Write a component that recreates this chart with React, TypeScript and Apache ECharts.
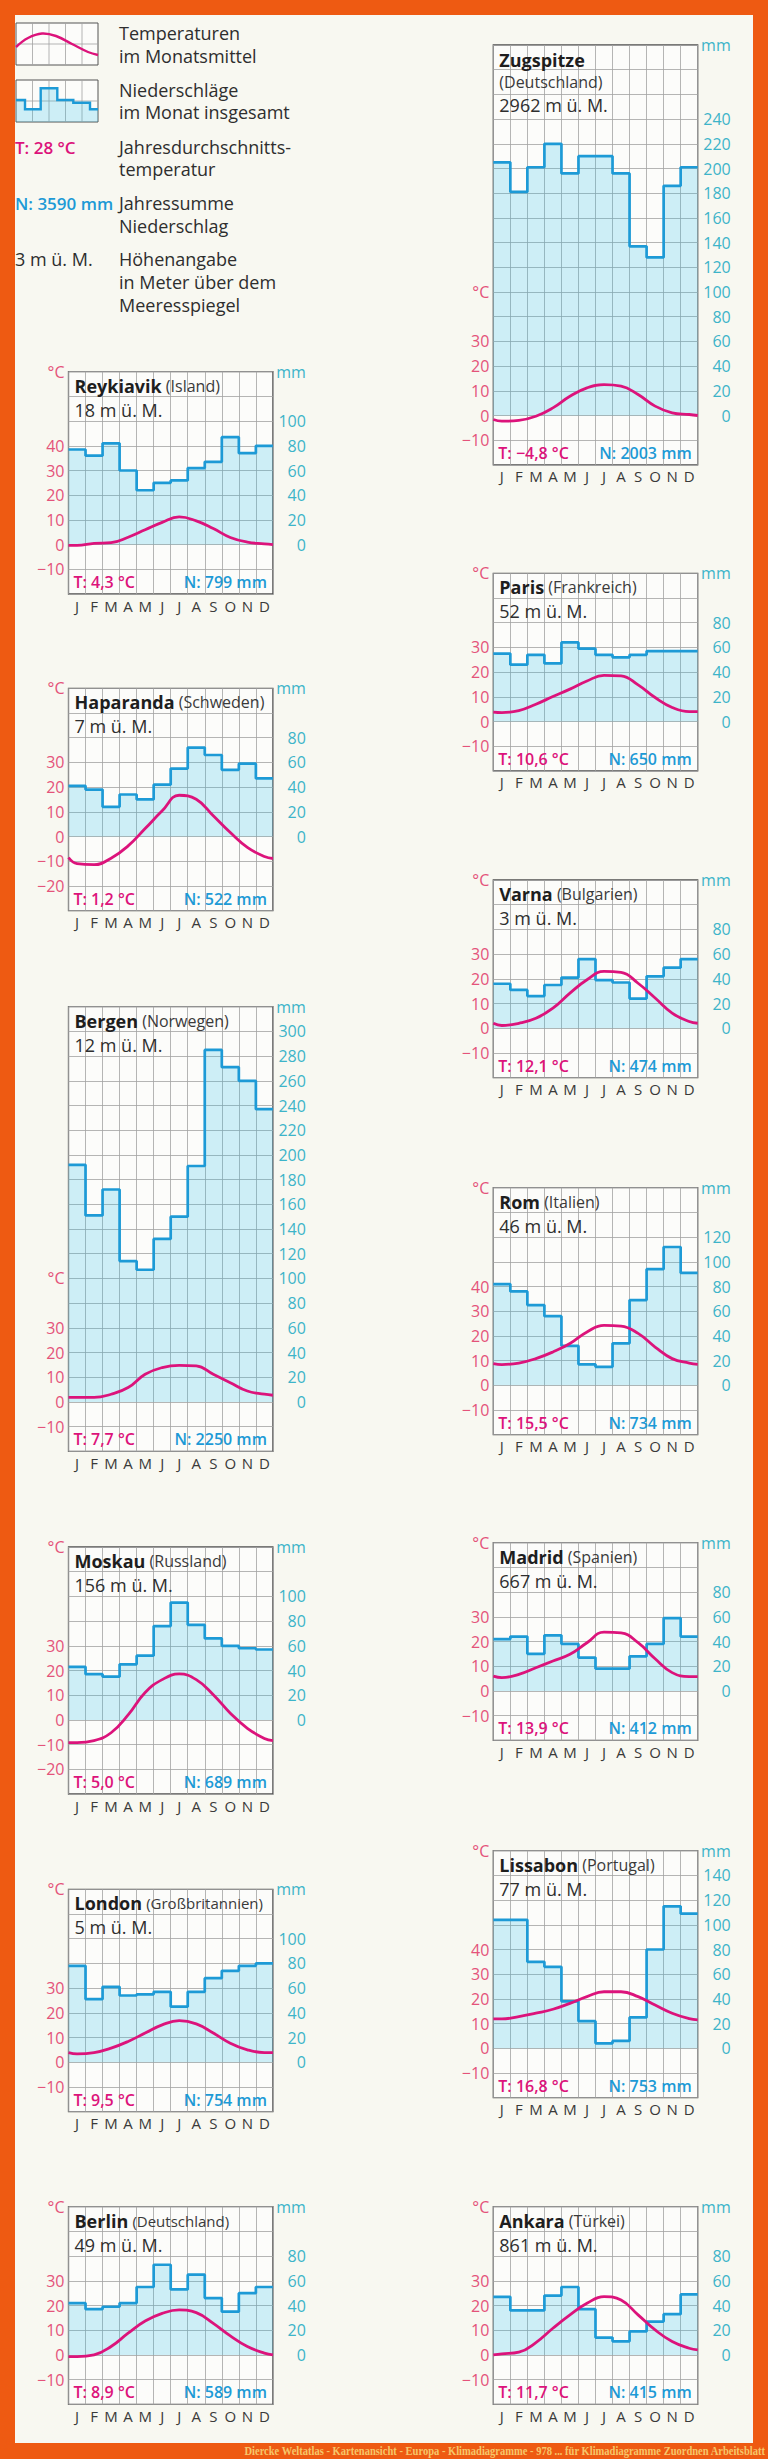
import React, { useEffect, useRef } from "react";
import * as echarts from "echarts";

const FONT = "'Open Sans', 'Noto Sans', sans-serif";
const months = ["J", "F", "M", "A", "M", "J", "J", "A", "S", "O", "N", "D"];

// ---- data (precipitation mm, temperature °C) ----
const zugspitzePrecip = [205, 181, 201, 220, 196, 210, 210, 196, 137, 128, 186, 201];
const zugspitzeTemp = [-2.3, -2.0, -0.3, 3.1, 7.8, 11.2, 12.5, 11.9, 8.5, 3.8, 1.1, 0.4];
const zugspitzeTempEdges = [-1.6, 0.0];

const reykjavikPrecip = [77, 72, 82, 60, 44, 50, 52, 62, 67, 87, 74, 80];
const reykjavikTemp = [-0.3, 0.5, 0.8, 3.0, 6.0, 9.0, 11.2, 9.6, 6.5, 2.9, 1.0, 0.3];
const reykjavikTempEdges = [-0.3, 0.0];

const parisPrecip = [55, 46, 54, 47, 64, 59, 54, 52, 54, 57, 57, 57];
const parisTemp = [3.6, 4.4, 7.0, 10.1, 13.1, 16.4, 18.7, 18.5, 14.8, 9.7, 5.7, 4.0];
const parisTempEdges = [3.8, 4.0];

const haparandaPrecip = [41, 38, 24, 34, 30, 42, 55, 72, 66, 54, 59, 47];
const haparandaTemp = [-11.0, -11.4, -8.8, -3.8, 3.2, 10.4, 16.7, 15.1, 8.4, 1.6, -4.4, -8.1];
const haparandaTempEdges = [-8.5, -8.9];

const varnaPrecip = [36, 31, 26, 35, 41, 56, 39, 37, 24, 42, 49, 56];
const varnaTemp = [1.1, 2.0, 4.0, 8.1, 14.2, 19.6, 23.0, 22.6, 18.2, 12.2, 6.1, 2.7];
const varnaTempEdges = [2.0, 2.0];

const bergenPrecip = [192, 151, 172, 114, 107, 132, 150, 191, 285, 271, 260, 237];
const bergenTemp = [1.8, 1.8, 3.1, 5.8, 11.2, 13.9, 14.8, 14.6, 11.2, 7.8, 4.4, 3.1];
const bergenTempEdges = [1.8, 2.7];

const romPrecip = [82, 76, 65, 56, 32, 17, 15, 34, 69, 94, 112, 91];
const romTemp = [8.4, 9.0, 10.8, 13.5, 16.9, 21.6, 24.3, 24.0, 21.0, 15.5, 10.8, 9.0];
const romTempEdges = [8.8, 8.5];

const moskauPrecip = [43, 37, 35, 45, 52, 76, 95, 77, 66, 60, 58, 57];
const moskauTemp = [-9.2, -8.4, -5.2, 2.0, 11.1, 16.3, 18.6, 16.3, 10.2, 2.7, -3.4, -7.5];
const moskauTempEdges = [-9.2, -8.4];

const madridPrecip = [42, 44, 30, 45, 38, 27, 18, 18, 28, 38, 59, 44];
const madridTemp = [5.4, 6.7, 9.4, 12.1, 14.8, 19.5, 23.8, 23.5, 19.5, 13.0, 7.4, 5.8];
const madridTempEdges = [6.0, 5.8];

const londonPrecip = [78, 51, 61, 54, 55, 57, 45, 57, 68, 74, 78, 80];
const londonTemp = [3.4, 3.9, 5.7, 8.4, 11.8, 15.1, 16.8, 15.5, 11.8, 7.7, 5.0, 3.9];
const londonTempEdges = [3.9, 3.9];

const lissabonPrecip = [104, 104, 70, 66, 38, 22, 4, 6, 25, 80, 115, 109];
const lissabonTemp = [11.9, 12.8, 14.2, 15.8, 18.2, 20.9, 22.9, 22.9, 20.9, 17.5, 14.2, 12.0];
const lissabonTempEdges = [11.9, 11.5];

const berlinPrecip = [42, 37, 39, 42, 55, 73, 53, 65, 46, 35, 50, 55];
const berlinTemp = [-0.7, 0.0, 3.4, 8.8, 13.7, 16.8, 18.2, 17.1, 12.8, 7.7, 3.4, 0.7];
const berlinTempEdges = [-0.7, 0.0];

const ankaraPrecip = [47, 36, 36, 48, 55, 37, 14, 11, 19, 27, 33, 49];
const ankaraTemp = [0.4, 1.1, 5.0, 10.8, 16.2, 20.9, 23.6, 22.2, 16.2, 10.1, 5.4, 2.7];
const ankaraTempEdges = [0.0, 2.0];

// ---- station texts and axis ranges ----
const stations = [
  { name: "Zugspitze", country: "(Deutschland)", ownLine: true, elev: "2962 m ü. M.", T: "T: −4,8 °C", N: "N: 2003 mm", precip: zugspitzePrecip, temp: zugspitzeTemp, edges: zugspitzeTempEdges, tMin: -20, tMax: 150, tLab: [-10, 30], cAt: 50, pLab: 240 },
  { name: "Reykiavik", country: "(Island)", elev: "18 m ü. M.", T: "T: 4,3 °C", N: "N: 799 mm", precip: reykjavikPrecip, temp: reykjavikTemp, edges: reykjavikTempEdges, tMin: -20, tMax: 70, tLab: [-10, 40], cAt: 70, pLab: 100 },
  { name: "Paris", country: "(Frankreich)", elev: "52 m ü. M.", T: "T: 10,6 °C", N: "N: 650 mm", precip: parisPrecip, temp: parisTemp, edges: parisTempEdges, tMin: -20, tMax: 60, tLab: [-10, 30], cAt: 60, pLab: 80 },
  { name: "Haparanda", country: "(Schweden)", elev: "7 m ü. M.", T: "T: 1,2 °C", N: "N: 522 mm", precip: haparandaPrecip, temp: haparandaTemp, edges: haparandaTempEdges, tMin: -30, tMax: 60, tLab: [-20, 30], cAt: 60, pLab: 80 },
  { name: "Varna", country: "(Bulgarien)", elev: "3 m ü. M.", T: "T: 12,1 °C", N: "N: 474 mm", precip: varnaPrecip, temp: varnaTemp, edges: varnaTempEdges, tMin: -20, tMax: 60, tLab: [-10, 30], cAt: 60, pLab: 80 },
  { name: "Bergen", country: "(Norwegen)", elev: "12 m ü. M.", T: "T: 7,7 °C", N: "N: 2250 mm", precip: bergenPrecip, temp: bergenTemp, edges: bergenTempEdges, tMin: -20, tMax: 160, tLab: [-10, 30], cAt: 50, pLab: 300 },
  { name: "Rom", country: "(Italien)", elev: "46 m ü. M.", T: "T: 15,5 °C", N: "N: 734 mm", precip: romPrecip, temp: romTemp, edges: romTempEdges, tMin: -20, tMax: 80, tLab: [-10, 40], cAt: 80, pLab: 120 },
  { name: "Moskau", country: "(Russland)", elev: "156 m ü. M.", T: "T: 5,0 °C", N: "N: 689 mm", precip: moskauPrecip, temp: moskauTemp, edges: moskauTempEdges, tMin: -30, tMax: 70, tLab: [-20, 30], cAt: 70, pLab: 100 },
  { name: "Madrid", country: "(Spanien)", elev: "667 m ü. M.", T: "T: 13,9 °C", N: "N: 412 mm", precip: madridPrecip, temp: madridTemp, edges: madridTempEdges, tMin: -20, tMax: 60, tLab: [-10, 30], cAt: 60, pLab: 80 },
  { name: "London", country: "(Großbritannien)", elev: "5 m ü. M.", T: "T: 9,5 °C", N: "N: 754 mm", precip: londonPrecip, temp: londonTemp, edges: londonTempEdges, tMin: -20, tMax: 70, tLab: [-10, 30], cAt: 70, pLab: 100 },
  { name: "Lissabon", country: "(Portugal)", elev: "77 m ü. M.", T: "T: 16,8 °C", N: "N: 753 mm", precip: lissabonPrecip, temp: lissabonTemp, edges: lissabonTempEdges, tMin: -20, tMax: 80, tLab: [-10, 40], cAt: 80, pLab: 140 },
  { name: "Berlin", country: "(Deutschland)", elev: "49 m ü. M.", T: "T: 8,9 °C", N: "N: 589 mm", precip: berlinPrecip, temp: berlinTemp, edges: berlinTempEdges, tMin: -20, tMax: 60, tLab: [-10, 30], cAt: 60, pLab: 80 },
  { name: "Ankara", country: "(Türkei)", elev: "861 m ü. M.", T: "T: 11,7 °C", N: "N: 415 mm", precip: ankaraPrecip, temp: ankaraTemp, edges: ankaraTempEdges, tMin: -20, tMax: 60, tLab: [-10, 30], cAt: 60, pLab: 80 },
];

// ---- layout (pixels) ----
const ROW = 24.7;
const PLOT_W = 204.4;
const COL_X = [68.5, 493.3];
const layout = [
  { col: 1, top: 45 },
  { col: 0, top: 371.7 },
  { col: 1, top: 573.3 },
  { col: 0, top: 688.3 },
  { col: 1, top: 880 },
  { col: 0, top: 1006.7 },
  { col: 1, top: 1187.7 },
  { col: 0, top: 1547 },
  { col: 1, top: 1542.7 },
  { col: 0, top: 1889.3 },
  { col: 1, top: 1850.7 },
  { col: 0, top: 2206.7 },
  { col: 1, top: 2206.7 },
];

const C_TEMP = "#DC137B";
const C_PREC = "#1D9AD6";
const C_TLAB = "#E4537A";
const C_PLAB = "#3DB4C9";
const C_TEXT = "#2e2e2e";
const C_GRID = "#a2a2a2";

function fmtNum(v: number) {
  return v < 0 ? "−" + Math.abs(v) : String(v);
}

function text(x: number, y: number, t: string, o: any = {}) {
  const align = o.align || "left";
  return {
    type: "text",
    x,
    y,
    silent: true,
    z: 50,
    scaleX: o.scaleX || 1,
    style: {
      text: t,
      fill: o.fill || C_TEXT,
      fontSize: o.fontSize || 18,
      fontFamily: o.fontFamily || FONT,
      fontWeight: o.fontWeight || "normal",
      align,
      verticalAlign: "middle",
      textAlign: align,
      textVerticalAlign: "middle",
      rich: o.rich,
    },
  };
}

function buildOption() {
  const grid: any[] = [];
  const xAxis: any[] = [];
  const yAxis: any[] = [];
  const series: any[] = [];
  const graphic: any[] = [];

  stations.forEach((s, i) => {
    const L = layout[i];
    const left = COL_X[L.col];
    const top = L.top;
    const height = ((s.tMax - s.tMin) / 10) * ROW;
    const bottom = top + height;
    const right = left + PLOT_W;

    grid.push({
      left,
      top,
      width: PLOT_W,
      height,
      show: true,
      backgroundColor: "#FCFCFA",
      borderColor: "#505050",
      borderWidth: 1.3,
      containLabel: false,
    });

    xAxis.push({
      type: "value",
      gridIndex: i,
      min: 0,
      max: 12,
      interval: 1,
      position: "top",
      axisLine: { show: false },
      axisTick: { show: false },
      axisLabel: { show: false },
      splitLine: { show: true, lineStyle: { color: C_GRID, width: 0.8 } },
    });
    xAxis.push({
      type: "category",
      gridIndex: i,
      data: months,
      position: "bottom",
      boundaryGap: true,
      axisLine: { show: false },
      axisTick: { show: false },
      splitLine: { show: false },
      axisLabel: { interval: 0, margin: 4, fontSize: 15, color: "#3a3a3a", fontFamily: FONT },
    });

    yAxis.push({
      type: "value",
      gridIndex: i,
      position: "left",
      min: s.tMin,
      max: s.tMax,
      interval: 10,
      axisLine: { show: false },
      axisTick: { show: false },
      splitLine: { show: true, lineStyle: { color: C_GRID, width: 0.8 } },
      axisLabel: {
        margin: 4,
        fontSize: 16,
        color: C_TLAB,
        fontFamily: FONT,
        formatter: (v: number) => {
          if (Math.abs(v - s.cAt) < 1e-6) return "°C";
          if (v >= s.tLab[0] && v <= s.tLab[1]) return fmtNum(v);
          return "";
        },
      },
    });
    yAxis.push({
      type: "value",
      gridIndex: i,
      position: "right",
      min: s.tMin * 2,
      max: s.tMax * 2,
      interval: 20,
      axisLine: { show: false },
      axisTick: { show: false },
      splitLine: { show: false },
      axisLabel: {
        margin: 33,
        align: "right",
        fontSize: 16,
        color: C_PLAB,
        fontFamily: FONT,
        formatter: (v: number) => {
          if (Math.abs(v - s.tMax * 2) < 1e-6) return "mm";
          if (v >= 0 && v <= s.pLab) return String(v);
          return "";
        },
      },
    });

    const precipData = s.precip.map((v, m) => [m, v]);
    precipData.push([12, s.precip[11]]);
    series.push({
      type: "line",
      xAxisIndex: 2 * i,
      yAxisIndex: 2 * i + 1,
      data: precipData,
      step: "end",
      symbol: "none",
      silent: true,
      z: 2,
      lineStyle: { color: C_PREC, width: 2.7 },
      areaStyle: { color: "rgba(40,190,230,0.22)", opacity: 1 },
    });

    const tempData: number[][] = [[0, s.edges[0]]];
    s.temp.forEach((v, m) => tempData.push([m + 0.5, v]));
    tempData.push([12, s.edges[1]]);
    series.push({
      type: "line",
      xAxisIndex: 2 * i,
      yAxisIndex: 2 * i,
      data: tempData,
      smooth: 0.45,
      symbol: "none",
      silent: true,
      z: 3,
      lineStyle: { color: C_TEMP, width: 2.8 },
    });

    // station header
    const rich = {
      b: { fontSize: 18, fontWeight: "bold", fontFamily: FONT, fill: "#1e1e1e" },
      r: { fontSize: 16, fontWeight: "normal", fontFamily: FONT, fill: "#3a3a3a" },
    };
    if ((s as any).ownLine) {
      graphic.push(text(left + 6, top + 15, "{b|" + s.name + "}", { rich }));
      graphic.push(text(left + 6, top + 37, s.country, { fontSize: 16, fill: "#3a3a3a" }));
      graphic.push(text(left + 6, top + 60, s.elev, { fontSize: 18 }));
    } else {
      const countrySize = s.country.length > 12 ? 15 : 16;
      graphic.push(
        text(left + 6, top + 14, "{b|" + s.name + "} {r|" + s.country + "}", {
          rich: { ...rich, r: { ...rich.r, fontSize: countrySize } },
          fontSize: 16,
        })
      );
      graphic.push(text(left + 6, top + 38, s.elev, { fontSize: 18 }));
    }
    // footer
    graphic.push(text(left + 5, bottom - 12, s.T, { fill: C_TEMP, fontSize: 16, fontWeight: 600 }));
    graphic.push(text(right - 6, bottom - 12, s.N, { fill: C_PREC, fontSize: 16, fontWeight: 600, align: "right" }));
  });

  // ---- legend ----
  const gridLine = (x1: number, y1: number, x2: number, y2: number) => ({
    type: "line",
    silent: true,
    z: 40,
    shape: { x1, y1, x2, y2 },
    style: { stroke: C_GRID, lineWidth: 0.8 },
  });
  graphic.push({ type: "rect", silent: true, z: 39, shape: { x: 16, y: 23, width: 82, height: 42 }, style: { fill: "#FCFCFA", stroke: "#555", lineWidth: 1 } });
  [32.5, 49, 65.5, 82].forEach((x) => graphic.push(gridLine(x, 23, x, 65)));
  graphic.push(gridLine(16, 44, 98, 44));
  graphic.push({
    type: "polyline",
    silent: true,
    z: 41,
    shape: { points: [[16, 47], [28, 38], [42, 33.5], [56, 36], [72, 44], [88, 52], [98, 55]], smooth: 0.4 },
    style: { stroke: C_TEMP, lineWidth: 2.4, fill: "none" },
  });

  graphic.push({ type: "rect", silent: true, z: 39, shape: { x: 16, y: 80, width: 82, height: 42 }, style: { fill: "#FCFCFA", stroke: "#555", lineWidth: 1 } });
  [32.5, 49, 65.5, 82].forEach((x) => graphic.push(gridLine(x, 80, x, 122)));
  graphic.push(gridLine(16, 101, 98, 101));
  const stepPts = [[16, 100], [25, 100], [25, 109.3], [40.7, 109.3], [40.7, 88.3], [57.3, 88.3], [57.3, 100], [73.3, 100], [73.3, 102.7], [90, 102.7], [90, 109.3], [98, 109.3]];
  graphic.push({
    type: "polygon",
    silent: true,
    z: 40,
    shape: { points: [...stepPts, [98, 122], [16, 122]] },
    style: { fill: "rgba(40,190,230,0.22)" },
  });
  graphic.push({
    type: "polyline",
    silent: true,
    z: 41,
    shape: { points: stepPts },
    style: { stroke: C_PREC, lineWidth: 2.4, fill: "none" },
  });

  const LX = 119;
  graphic.push(text(LX, 33, "Temperaturen"));
  graphic.push(text(LX, 56, "im Monatsmittel"));
  graphic.push(text(LX, 90, "Niederschläge"));
  graphic.push(text(LX, 112, "im Monat insgesamt"));
  graphic.push(text(15, 147, "T: 28 °C", { fill: C_TEMP, fontSize: 17, fontWeight: 600 }));
  graphic.push(text(LX, 147, "Jahresdurchschnitts-"));
  graphic.push(text(LX, 169, "temperatur"));
  graphic.push(text(15, 203, "N: 3590 mm", { fill: C_PREC, fontSize: 17, fontWeight: 600 }));
  graphic.push(text(LX, 203, "Jahressumme"));
  graphic.push(text(LX, 226, "Niederschlag"));
  graphic.push(text(15, 259, "3 m ü. M.", { fontSize: 18 }));
  graphic.push(text(LX, 259, "Höhenangabe"));
  graphic.push(text(LX, 282, "in Meter über dem"));
  graphic.push(text(LX, 305, "Meeresspiegel"));

  // caption in the orange frame
  graphic.push(
    text(765, 2451, "Diercke Weltatlas - Kartenansicht - Europa - Klimadiagramme - 978 ... für Klimadiagramme Zuordnen Arbeitsblatt", {
      fontFamily: "'Liberation Serif', serif",
      fontWeight: "bold",
      fontSize: 13,
      fill: "#F6C76A",
      align: "right",
      scaleX: 0.81,
    })
  );

  return {
    animation: false,
    backgroundColor: "transparent",
    grid,
    xAxis,
    yAxis,
    series,
    graphic,
  };
}

export default function App() {
  const ref = useRef<HTMLDivElement>(null);
  useEffect(() => {
    document.body.style.margin = "0";
    const chart = echarts.init(ref.current as HTMLDivElement, null, { renderer: "svg", width: 768, height: 2459 });
    chart.setOption(buildOption() as any);
    return () => chart.dispose();
  }, []);
  return (
    <div style={{ position: "relative", width: 768, height: 2459, background: "#EE5A12", overflow: "hidden" }}>
      <div style={{ position: "absolute", left: 15, top: 15, width: 738, height: 2428, background: "#F8F8F1" }} />
      <div ref={ref} style={{ position: "absolute", left: 0, top: 0, width: 768, height: 2459 }} />
    </div>
  );
}
